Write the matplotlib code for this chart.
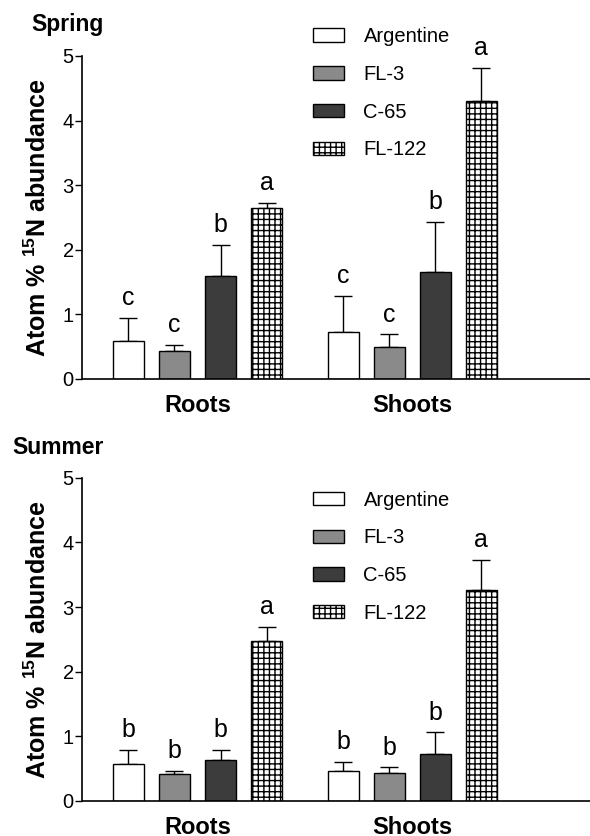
import numpy as np
import matplotlib
matplotlib.use("Agg")
import matplotlib.pyplot as plt
from matplotlib.patches import Patch

plt.rcParams['font.family'] = ['Liberation Sans', 'DejaVu Sans']
plt.rcParams['mathtext.fontset'] = 'custom'
plt.rcParams['mathtext.rm'] = 'Liberation Sans'
plt.rcParams['mathtext.bf'] = 'Liberation Sans:bold'
plt.rcParams['hatch.linewidth'] = 1.0

# data
groups = ['Roots', 'Shoots']
cultivars = ['Argentine', 'FL-3', 'C-65', 'FL-122']

spring_mean = [[0.59, 0.44, 1.59, 2.64],
               [0.72, 0.49, 1.65, 4.30]]
spring_err = [[0.35, 0.09, 0.49, 0.09],
              [0.57, 0.20, 0.78, 0.51]]
spring_letters = [['c', 'c', 'b', 'a'],
                  ['c', 'c', 'b', 'a']]

summer_mean = [[0.57, 0.42, 0.64, 2.47],
               [0.47, 0.43, 0.72, 3.27]]
summer_err = [[0.22, 0.05, 0.15, 0.22],
              [0.14, 0.09, 0.34, 0.46]]
summer_letters = [['b', 'b', 'b', 'a'],
                  ['b', 'b', 'b', 'a']]

# styles
colors = ['white', '#8a8a8a', '#3c3c3c', 'white']
hatches = [None, None, None, '+++']
bar_w = 0.67
group_start = [0.0, 4.67]


def panel(ax, means, errs, letters, legend_y):
    for g in range(len(groups)):
        xs = group_start[g] + np.arange(len(cultivars))
        for i in range(len(cultivars)):
            ax.bar(xs[i], means[g][i], bar_w, color=colors[i], edgecolor='black',
                   linewidth=1.0, hatch=hatches[i], zorder=2)
            ax.errorbar(xs[i], means[g][i], yerr=[[0], [errs[g][i]]], fmt='none',
                        ecolor='black', elinewidth=1.0, capsize=6.5, capthick=1.0, zorder=1)
            ax.text(xs[i], means[g][i] + errs[g][i] + 0.12, letters[g][i],
                    ha='center', va='bottom', fontsize=18)

    ax.set_xlim(-1.01, 10.03)
    ax.set_ylim(0, 5)
    ax.set_yticks([0, 1, 2, 3, 4, 5])
    centers = [group_start[g] + 1.5 for g in range(len(groups))]
    ax.set_xticks(centers)
    ax.set_xticklabels(groups, fontsize=17, fontweight='bold')
    ax.tick_params(axis='x', length=0, pad=11)
    ax.tick_params(axis='y', length=5, width=1.0, pad=1, labelsize=14.5)
    for s in ['top', 'right']:
        ax.spines[s].set_visible(False)
    for s in ['left', 'bottom']:
        ax.spines[s].set_linewidth(1.2)
    ax.set_ylabel(r'Atom % $^{\mathbf{15}}$N abundance', fontsize=18,
                  fontweight='bold', labelpad=8)

    handles = [Patch(facecolor=colors[i], edgecolor='black', hatch=hatches[i],
                     linewidth=1.0) for i in range(len(cultivars))]
    ax.legend(handles, cultivars, loc='upper left', bbox_to_anchor=(0.455, legend_y),
              frameon=False, fontsize=14.5, handlelength=1.55, handleheight=0.65,
              handletextpad=0.95, labelspacing=0.93, borderaxespad=0, borderpad=0)


fig = plt.figure(figsize=(5.9, 8.36), dpi=100)
ax1 = fig.add_axes([0.139, 0.5467, 0.861, 0.3864])
ax2 = fig.add_axes([0.139, 0.0419, 0.861, 0.3867])

panel(ax1, spring_mean, spring_err, spring_letters, 1.089)
panel(ax2, summer_mean, summer_err, summer_letters, 0.96)

fig.text(31 / 590, 1 - 31 / 836, 'Spring', fontsize=16.5, fontweight='bold', va='baseline')
fig.text(12 / 590, 1 - 454 / 836, 'Summer', fontsize=16.5, fontweight='bold', va='baseline')

fig.savefig('out.png', dpi=100)
